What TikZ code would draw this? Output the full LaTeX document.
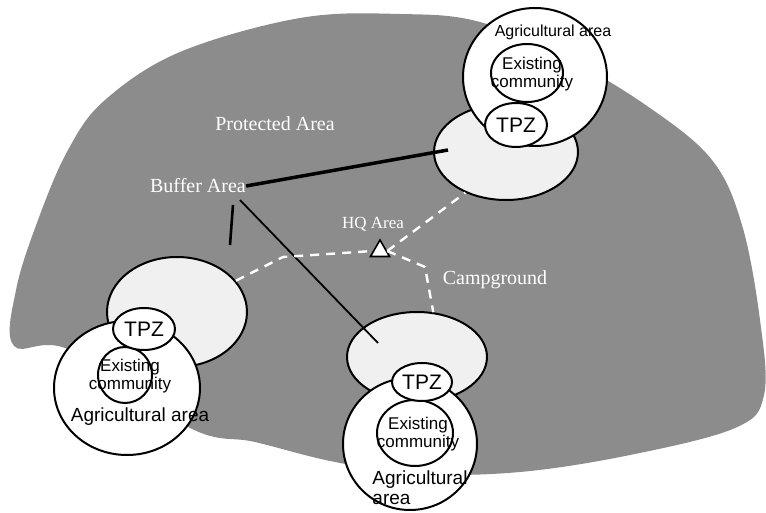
\documentclass[tikz,border=0pt]{standalone}
\usepackage{fontspec}
\setmainfont{Liberation Serif}
\newfontfamily\labelfont{Liberation Sans}
\usetikzlibrary{shapes.geometric}

\begin{document}
\begin{tikzpicture}[x=1pt, y=-1pt,
		zone/.style={ellipse, draw, line width=2pt, inner sep=0pt},
		buffer/.style={zone, fill=black!6},
		agri/.style={zone, fill=white},
		tpz/.style={zone, fill=white, font=\labelfont\fontsize{21}{23}\selectfont},
		ztext/.style={align=center, inner sep=0pt, font=\labelfont\fontsize{17}{18}\selectfont},
		wtext/.style={text=white, inner sep=0pt, font=\fontsize{20}{22}\selectfont},
		trail/.style={white, dashed, dash pattern=on 9pt off 7pt, line width=2.4pt}]
		%%%%% START %%%%%
		
		\useasboundingbox (0, 0) rectangle (766, 513);
		
		% protected area
		\fill[color=black!45] plot[smooth cycle, tension=0.6] coordinates {
			(300, 18) (400, 14) (480, 22) (570, 60) (650, 108) (712, 160)
			(742, 225) (760, 320) (764, 395) (735, 428) (630, 455) (520, 472)
			(420, 474) (335, 462) (255, 442) (190, 428) (70, 350) (14, 346)
			(16, 290) (38, 220) (68, 150) (105, 100) (180, 52)};
		
		% buffer zones
		\node[buffer, minimum width=144, minimum height=96] (bufUR) at (506, 152) {};
		\node[buffer, minimum width=140, minimum height=110] (bufLL) at (177, 312) {};
		\node[buffer, minimum width=140, minimum height=90] (bufBM) at (417, 357) {};
		
		% agricultural areas
		\node[agri, minimum width=144, minimum height=138] (agUR) at (535, 77) {};
		\node[agri, minimum width=146, minimum height=134] (agLL) at (127, 388) {};
		\node[agri, minimum width=134, minimum height=132] (agBM) at (410, 444) {};
		
		\node[ztext, font=\labelfont\fontsize{16}{17}\selectfont] (agUR-t) at (553, 32) {Agricultural area};
		\node[ztext, font=\labelfont\fontsize{19}{21}\selectfont] (agLL-t) at (140, 417) {Agricultural area};
		\node[ztext, align=left, font=\labelfont\fontsize{19}{20}\selectfont] (agBM-t) at (420, 488) {Agricultural\\area};
		
		% existing communities
		\node[agri, minimum width=72, minimum height=58] (exUR) at (527, 73) {};
		\node[agri, minimum width=54, minimum height=56] (exLL) at (125, 375) {};
		\node[agri, minimum width=76, minimum height=66] (exBM) at (415, 433) {};
		
		\node[ztext] (exUR-t) at (532, 74) {Existing\\community};
		\node[ztext] (exLL-t) at (130, 376) {Existing\\community};
		\node[ztext] (exBM-t) at (418, 434) {Existing\\community};
		
		% TPZ
		\node[tpz, minimum width=62, minimum height=44] (tpzUR) at (516, 125) {TPZ};
		\node[tpz, minimum width=62, minimum height=42] (tpzLL) at (144, 329) {TPZ};
		\node[tpz, minimum width=60, minimum height=38] (tpzBM) at (422, 382) {TPZ};
		
		% labels
		\node[wtext] (prot) at (275, 124) {Protected Area};
		\node[wtext] (buf) at (198, 186) {Buffer Area};
		\node[wtext, font=\fontsize{17}{19}\selectfont] (hq-t) at (373, 224) {HQ Area};
		\node[wtext] (camp) at (495, 280) {Campground};
		
		\node[regular polygon, regular polygon sides=3, draw, fill=white, line width=1.6pt,
			minimum size=22, inner sep=0pt] (hq) at (380, 251) {};
		
		% links
		\coordinate (urTip) at (448, 150);
		\coordinate (vTop) at (233, 205);
		\coordinate (vEnd) at (230, 245);
		\coordinate (dTop) at (240, 200);
		\coordinate (bmTip) at (378, 343);
		\coordinate (llBend) at (283, 257);
		\coordinate (bmBend) at (425, 267);
		
		\draw[line width=3.5pt] (buf.east) -- (urTip);
		\draw[line width=2.6pt] (vTop) -- (vEnd);
		\draw[line width=1.8pt] (dTop) -- (bmTip);
		
		\draw[trail] (bufLL.28) -- (llBend) -- (hq.west);
		\draw[trail] (hq.east) -- (bufUR.225);
		\draw[trail] (hq.east) -- (bmBend) -- (bufBM.70);
		
		%%%%% END %%%%%
	\end{tikzpicture}
\end{document}
